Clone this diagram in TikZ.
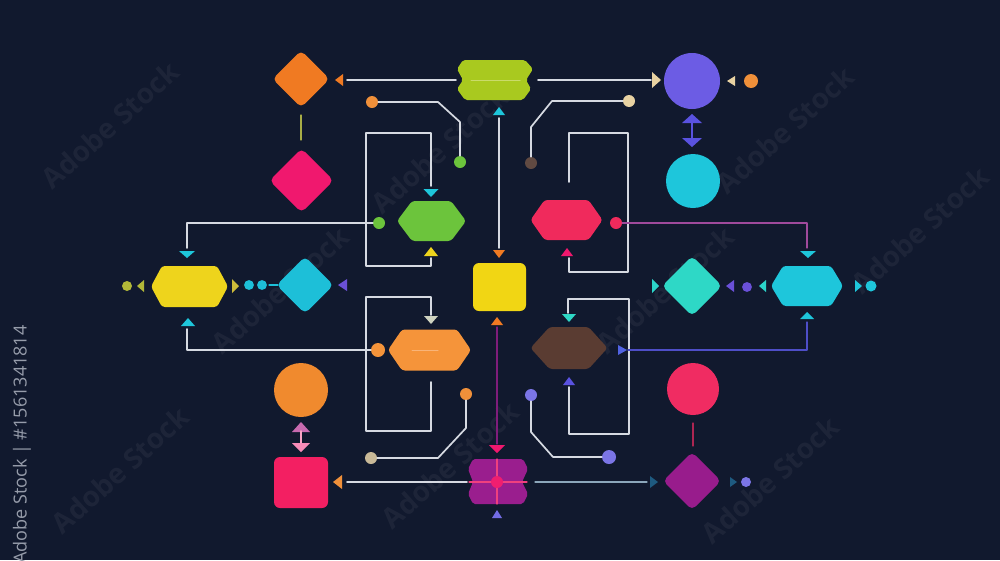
\documentclass[tikz,border=0pt]{standalone}
\usepackage{fontspec}
\setsansfont{Open Sans}
\definecolor{bg}{RGB}{17,25,46}
\definecolor{wirec}{HTML}{D6DAE2}
\definecolor{orangeD}{HTML}{F07A22}
\definecolor{lime}{HTML}{A9C91F}
\definecolor{limeL}{HTML}{CADB6A}
\definecolor{purpleC}{HTML}{6C5CE4}
\definecolor{cream}{HTML}{E8D2A2}
\definecolor{orangeDot}{HTML}{F0903A}
\definecolor{blueA}{HTML}{5A52E0}
\definecolor{cyanC}{HTML}{1EC6DB}
\definecolor{magD}{HTML}{F0186E}
\definecolor{greenH}{HTML}{6CC43C}
\definecolor{pinkH}{HTML}{F02A5C}
\definecolor{yellowH}{HTML}{EED41C}
\definecolor{yellowSq}{HTML}{F1D614}
\definecolor{cyanD}{HTML}{1DBFD8}
\definecolor{tealD}{HTML}{2ED8C6}
\definecolor{orangeH}{HTML}{F5943A}
\definecolor{orangeHL}{HTML}{F9B478}
\definecolor{brownH}{HTML}{5A3C32}
\definecolor{orangeC}{HTML}{F08A2E}
\definecolor{pinkSq}{HTML}{F31F62}
\definecolor{redC}{HTML}{F02C62}
\definecolor{purpleD}{HTML}{981C8C}
\definecolor{crossC}{HTML}{9A1E8E}
\definecolor{crossL}{HTML}{F0407E}
\definecolor{olive}{HTML}{B2B838}
\definecolor{violetA}{HTML}{6A50D8}
\definecolor{darkTeal}{HTML}{1E5A80}
\definecolor{pinkWire}{HTML}{A04A9C}
\definecolor{blueWire}{HTML}{4E4EC8}
\definecolor{idc}{RGB}{150,156,170}
\newcommand\hexa[7]{\fill[#7,rounded corners=3pt] ({#2-#4},{#3}) -- ({#2-#4+#6},{#3-#5}) -- ({#2+#4-#6},{#3-#5}) -- ({#2+#4},{#3}) -- ({#2+#4-#6},{#3+#5}) -- ({#2-#4+#6},{#3+#5}) -- cycle; \coordinate (#1) at (#2,#3);}
\newcommand\diam[5]{\fill[#5,rounded corners=5pt] ({#2-#4},{#3}) -- ({#2},{#3-#4}) -- ({#2+#4},{#3}) -- ({#2},{#3+#4}) -- cycle; \coordinate (#1) at (#2,#3);}
\newcommand\triR[5]{\fill[#5] (#1,#2) -- ({#1-#4},{#2-#3}) -- ({#1-#4},{#2+#3}) -- cycle;}
\newcommand\triL[5]{\fill[#5] (#1,#2) -- ({#1+#4},{#2-#3}) -- ({#1+#4},{#2+#3}) -- cycle;}
\newcommand\triU[5]{\fill[#5] (#1,#2) -- ({#1-#3},{#2+#4}) -- ({#1+#3},{#2+#4}) -- cycle;}
\newcommand\triD[5]{\fill[#5] (#1,#2) -- ({#1-#3},{#2-#4}) -- ({#1+#3},{#2-#4}) -- cycle;}
\begin{document}
\begin{tikzpicture}[x=1pt,y=-1pt,line cap=round,line join=round,
  wire/.style={draw=wirec,line width=1.7pt},
  dot/.style={circle,fill=#1,inner sep=0pt,minimum size=12pt},
  wm/.style={font=\sffamily\bfseries\fontsize{28}{28}\selectfont,text=white,opacity=0.05,rotate=42,inner sep=0pt}]
\useasboundingbox (0,0) rectangle (1000,560);
\fill[bg] (0,0) rectangle (1000,560);
% watermarks
\foreach \wx/\wy [count=\i] in {110/125,440/150,785/130,920/230,280/290,665/290,120/470,450/465,770/480}
  \node[wm] (wm\i) at (\wx,\wy) {Adobe Stock};
\node[rotate=90,anchor=east,font=\sffamily\fontsize{18}{18}\selectfont,text=idc] (id) at (22,322) {Adobe Stock | \#1561341814};

% ---------- top row ----------
\diam{odia}{301}{79}{28.5}{orangeD}
\fill[lime,rounded corners=2pt] (463,60) -- (525,60) -- (533,69) -- (526,80) -- (531,89) -- (523,100) -- (465,100) -- (457,89) -- (463,80) -- (457,69) -- cycle;
\coordinate (lime) at (495,80);
\draw[limeL,line width=1pt] (471,80) -- (520,80);
\coordinate (tl2) at (456,80);
\triL{335}{80}{6}{8}{orangeD}
\draw[wire] (347,80) -- (tl2);
\draw[wire] (538,80) -- (651,80);
\triR{661}{80}{8}{9}{cream}
\fill[purpleC] (692,81) circle (28pt); \coordinate (pc) at (692,81);
\triL{727}{81}{5}{8}{cream}
\node[dot=orangeDot,minimum size=14pt] (od1) at (751,81) {};
% double arrow purple-cyan
\triU{692}{114}{10}{9}{blueA}
\draw[blueA,line width=2pt] (692,122) -- (692,139);
\triD{692}{147}{10}{9}{blueA}
\fill[cyanC] (693,181) circle (27pt); \coordinate (cc) at (693,181);
% olive link between diamonds
\draw[olive!80!gray,line width=1.3pt] (301,115) -- (301,140);
\diam{mdia}{301.5}{180.5}{32}{magD}

% top-left bent wire
\node[dot=orangeDot] (d1) at (372,102) {};
\node[dot=greenH] (d2) at (460,162) {};
\draw[wire] (d1) -- (438,102) -- (460,122) -- (d2);
% top-right bent wire
\node[dot=cream] (d3) at (629,101) {};
\node[dot=brownH!80!gray] (d4) at (531,163) {};
\draw[wire] (d3) -- (552,101) -- (531,127) -- (d4);

% centre spine top
\triU{499}{107}{6}{8}{cyanC}
\draw[wire] (499,118) -- (499,248);
\triD{499}{258}{6}{8}{orangeD}
\fill[yellowSq,rounded corners=6pt] (473,263) rectangle (526,311); \coordinate (ysq) at (499.5,287);

% ---------- green hexagon block ----------
\hexa{gh}{431.5}{221}{34.5}{20}{15}{greenH}
\draw[wire] (431,186) -- (431,133) -- (366,133) -- (366,266) -- (431,266) -- (431,258);
\triD{431}{197}{7.5}{8}{cyanC}
\triU{431}{247}{7}{9}{yellowH}
\node[dot=greenH] (d5) at (379,223) {};
\draw[wire] (d5) -- (187,223) -- (187,248);
\triD{187}{258}{8}{7}{cyanC}

% ---------- pink hexagon block ----------
\hexa{ph}{566.5}{220}{36}{20}{14}{pinkH}
\draw[wire] (569,182) -- (569,133) -- (628,133) -- (628,272) -- (569,272) -- (569,258);
\triU{567}{248}{6}{8}{magD}
\node[dot=pinkH] (d6) at (616,223) {};
\draw[line width=1.3pt,draw=pinkWire] (d6) -- (807,223) -- (807,248);
\triD{808}{258}{8}{7}{cyanC}

% ---------- left middle row ----------
\hexa{yh}{189.5}{286.5}{38.5}{20.5}{11}{yellowH}
\triL{137}{286}{6}{7}{olive}
\node[dot=olive,minimum size=10pt] (d7) at (127,286) {};
\triR{239}{286}{7}{7}{yellowH!70!gray}
\diam{sd1}{249}{285}{7}{cyanD}
\diam{sd2}{262}{285}{7}{cyanD}
\draw[cyanD,line width=1.2pt] (269,285) -- (278,285);
\diam{cdia}{305}{285}{28.5}{cyanD}
\triL{338}{285}{6}{9}{violetA}
\triU{188}{318}{7}{8}{cyanC}
\node[circle,fill=orangeH,inner sep=0pt,minimum width=12pt,minimum height=14pt] (d8) at (378,350) {};
\draw[wire] (187,329) -- (187,350) -- (d8);

% ---------- orange hexagon block ----------
\hexa{oh}{429.5}{350}{41.5}{20.5}{14}{orangeH}
\draw[orangeHL,line width=1pt] (412,350) -- (438,350);
\draw[wire] (431,315) -- (431,297) -- (366,297) -- (366,431) -- (431,431) -- (431,382);
\triD{431}{324}{7}{8}{wirec!80!olive}

% ---------- brown hexagon block ----------
\hexa{bh}{569}{348}{38.5}{21}{19}{brownH}
\draw[wire] (568,313) -- (568,299) -- (629,299) -- (629,434) -- (569,434) -- (569,387);
\triD{569}{322}{7}{8}{tealD}
\triU{569}{377}{6}{8}{blueA}
\triR{627}{350}{5}{9}{blueA!90!cyan}
\draw[line width=1.3pt,draw=blueWire] (628,350) -- (807,350) -- (807,322);
\triU{807}{312}{7}{7}{cyanC}

% ---------- right middle row ----------
\triR{659}{286}{7}{7}{tealD!85!cyanC}
\diam{tdia}{692}{286}{30}{tealD}
\triL{726}{286}{6}{8}{violetA}
\diam{pd}{747}{287}{7}{violetA}
\triL{759}{286}{6}{7}{tealD!80!cyanC}
\hexa{ch}{807}{286}{36}{20}{12}{cyanC}
\triR{862}{286}{6}{7}{cyanC}
\node[dot=cyanC,minimum size=11pt] (d9) at (871,286) {};

% ---------- lower centre ----------
\triU{497}{317}{6}{8}{orangeD}
\draw[line width=1.2pt,draw=crossC!80!bg] (497,327) -- (497,444);
\triD{497}{453}{8}{8}{magD}
\fill[crossC,rounded corners=2pt] (473,459) -- (523,459) -- (528,469) -- (522,482) -- (528,494) -- (523,504) -- (473,504) -- (468,494) -- (473,482) -- (468,469) -- cycle;
\draw[crossL,line width=1.2pt] (469,482) -- (527,482) (497,459) -- (497,504);
\node[dot=magD!85!crossL] (cross) at (497,482) {};
\triU{497}{510}{5}{8}{blueA!85!white}

% lower left bent wire
\node[dot=orangeDot] (d10) at (466,394) {};
\node[dot=cream!70!gray] (d11) at (371,458) {};
\draw[wire] (d10) -- (466,428) -- (438,458) -- (d11);
% lower right bent wire
\node[dot=blueA!80!white] (d12) at (531,395) {};
\node[dot=blueA!80!white,minimum size=14pt] (d13) at (609,457) {};
\draw[wire] (d12) -- (531,432) -- (553,457) -- (d13);

% ---------- bottom row ----------
\draw[wire] (467,482) -- (347,482);
\triL{333}{482}{7}{9}{orangeDot}
\fill[pinkSq,rounded corners=6pt] (274,457) rectangle (328,508); \coordinate (psq) at (301,482.5);
\fill[orangeC] (301,390) circle (27pt); \coordinate (oc) at (301,390);
\triU{301}{422}{9}{10}{magD!30!violet!60!white}
\draw[magD!40!white,line width=2pt] (301,431) -- (301,444);
\triD{301}{452}{9}{9}{magD!50!white}

\draw[line width=1.2pt,draw=wirec!60!darkTeal] (535,482) -- (647,482);
\triR{658}{482}{6}{8}{darkTeal}
\diam{pdia}{692}{481}{29}{purpleD}
\triR{737}{482}{5}{7}{darkTeal}
\node[dot=blueA!80!white,minimum size=10pt] (d14) at (746,482) {};
\fill[redC] (693,389) circle (26pt); \coordinate (rc) at (693,389);
\draw[redC!70!bg,line width=1.3pt] (693,423) -- (693,446);
\end{tikzpicture}
\end{document}
